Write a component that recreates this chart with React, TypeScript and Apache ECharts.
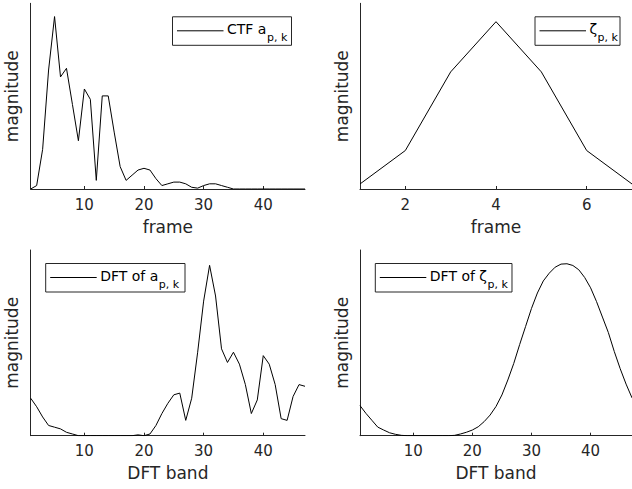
import { useEffect, useRef } from 'react';
import * as echarts from 'echarts';

// CTF a_{p,k} magnitude per frame (frames 1..47)
const ctfValues = [
  0, 0.02, 0.23, 0.69, 1.0, 0.65, 0.7, 0.49, 0.28, 0.58, 0.52, 0.05, 0.54, 0.54, 0.33, 0.13,
  0.05, 0.08, 0.11, 0.12, 0.11, 0.06, 0.02, 0.03, 0.04, 0.04, 0.03, 0.01, 0.005, 0.02, 0.03,
  0.03, 0.02, 0.01, 0, 0, 0, 0, 0, 0, 0, 0, 0, 0, 0, 0, 0,
];
// zeta_{p,k} per frame (frames 1..7)
const zetaValues = [0.03, 0.23, 0.7, 1.0, 0.7, 0.23, 0.03];
// DFT of a_{p,k} per DFT band (1..47)
const dftAValues = [
  0.22, 0.17, 0.11, 0.06, 0.05, 0.04, 0.02, 0.01, 0, 0, 0, 0, 0, 0, 0, 0, 0, 0,
  0.005, 0, 0.01, 0.06, 0.13, 0.19, 0.24, 0.25, 0.09, 0.22, 0.49, 0.79, 1.0, 0.82, 0.51,
  0.43, 0.49, 0.42, 0.3, 0.13, 0.21, 0.47, 0.42, 0.3, 0.1, 0.09, 0.23, 0.3, 0.29,
];
// DFT of zeta_{p,k} per DFT band (1..47)
const dftZetaValues = [
  0.175, 0.13, 0.09, 0.05, 0.033, 0.017, 0.008, 0.002, 0, 0, 0, 0, 0, 0, 0, 0,
  0.002, 0.01, 0.02, 0.033, 0.052, 0.082, 0.12, 0.17, 0.237, 0.324, 0.42, 0.53, 0.635,
  0.74, 0.83, 0.9, 0.945, 0.98, 0.998, 1.0, 0.99, 0.965, 0.92, 0.86, 0.78, 0.69, 0.6,
  0.49, 0.39, 0.3, 0.22,
];

const bandTicks = [10, 20, 30, 40];
const frameTicks = [2, 4, 6];

const FONT = 'DejaVu Sans';
const AX = '#262626';
const BASE_SIZE = 14;
const SUB_SIZE = 11;

const toPairs = (vals: number[]) => vals.map((v, i) => [i + 1, v]);

let measureCtx: CanvasRenderingContext2D | null = null;
function textWidth(text: string, size: number) {
  if (!measureCtx) measureCtx = document.createElement('canvas').getContext('2d');
  if (!measureCtx) return text.length * size * 0.6;
  measureCtx.font = `${size}px "${FONT}"`;
  return measureCtx.measureText(text).width;
}

function xAxisCfg(gridIndex: number, min: number, max: number, ticks: number[], name: string) {
  return {
    type: 'value',
    gridIndex,
    min,
    max,
    name,
    nameLocation: 'middle',
    nameGap: 29,
    nameTextStyle: { fontFamily: FONT, fontSize: 17, color: AX },
    axisLine: { show: true, onZero: false, lineStyle: { color: AX, width: 1 } },
    axisTick: { show: true, inside: true, length: 3, customValues: ticks, lineStyle: { color: AX, width: 1 } },
    axisLabel: { show: true, customValues: ticks, margin: 8, fontFamily: FONT, fontSize: 15, color: AX },
    splitLine: { show: false },
  };
}

function yAxisCfg(gridIndex: number, max: number) {
  return {
    type: 'value',
    gridIndex,
    min: 0,
    max,
    name: 'magnitude',
    nameLocation: 'middle',
    nameGap: 10,
    nameRotate: 90,
    nameTextStyle: { fontFamily: FONT, fontSize: 17, color: AX },
    axisLine: { show: true, onZero: false, lineStyle: { color: AX, width: 1 } },
    axisTick: { show: false },
    axisLabel: { show: false },
    splitLine: { show: false },
  };
}

function legendBox(x: number, y: number, w: number, h: number, base: string, sub: string) {
  const textX = 54.5;
  const baseW = textWidth(base, BASE_SIZE);
  return {
    type: 'group',
    x,
    y,
    children: [
      {
        type: 'rect',
        shape: { x: 0, y: 0, width: w, height: h },
        style: { fill: '#ffffff', stroke: AX, lineWidth: 1 },
      },
      {
        type: 'line',
        shape: { x1: 4.5, y1: 14, x2: 51, y2: 14 },
        style: { stroke: '#000000', lineWidth: 1 },
      },
      {
        type: 'text',
        x: textX,
        y: 12.4,
        style: {
          text: base,
          align: 'left',
          verticalAlign: 'middle',
          fontFamily: FONT,
          fontSize: BASE_SIZE,
          fill: '#000000',
        },
      },
      {
        type: 'text',
        x: textX + baseW + 0.5,
        y: 20.6,
        style: {
          text: sub,
          align: 'left',
          verticalAlign: 'middle',
          fontFamily: FONT,
          fontSize: SUB_SIZE,
          fill: '#000000',
        },
      },
    ],
  };
}

function lineSeries(idx: number, vals: number[]) {
  return {
    type: 'line',
    xAxisIndex: idx,
    yAxisIndex: idx,
    data: toPairs(vals),
    showSymbol: false,
    symbol: 'none',
    lineStyle: { color: '#000000', width: 1 },
    itemStyle: { color: '#000000' },
  };
}

export default function App() {
  const ref = useRef<HTMLDivElement>(null);

  useEffect(() => {
    if (!ref.current) return;
    const chart = echarts.init(ref.current, undefined, { renderer: 'svg' });
    chart.setOption({
      animation: false,
      backgroundColor: '#ffffff',
      grid: [
        { left: 30.7, top: 3.3, width: 274.3, height: 185.7 },
        { left: 360, top: 3.3, width: 275, height: 185.7 },
        { left: 30.7, top: 250, width: 274.3, height: 185.7 },
        { left: 360, top: 250, width: 277, height: 185.7 },
      ],
      xAxis: [
        xAxisCfg(0, 1, 47, bandTicks, 'frame'),
        xAxisCfg(1, 1, 7, frameTicks, 'frame'),
        xAxisCfg(2, 1, 47, bandTicks, 'DFT band'),
        xAxisCfg(3, 1, 47, bandTicks, 'DFT band'),
      ],
      yAxis: [yAxisCfg(0, 1.077), yAxisCfg(1, 1.11), yAxisCfg(2, 1.09), yAxisCfg(3, 1.08)],
      series: [
        lineSeries(0, ctfValues),
        lineSeries(1, zetaValues),
        lineSeries(2, dftAValues),
        lineSeries(3, dftZetaValues),
      ],
      graphic: [
        legendBox(172.5, 16.8, 119, 28.5, 'CTF a', 'p, k'),
        legendBox(535, 16.8, 85, 28.5, 'ζ', 'p, k'),
        legendBox(45.7, 263.5, 139.3, 28.5, 'DFT of a', 'p, k'),
        legendBox(375.3, 263.5, 136.7, 28.5, 'DFT of ζ', 'p, k'),
      ],
    });
    return () => chart.dispose();
  }, []);

  return (
    <div
      ref={ref}
      style={{ position: 'absolute', left: 0, top: 0, width: 632, height: 489, background: '#fff' }}
    />
  );
}
